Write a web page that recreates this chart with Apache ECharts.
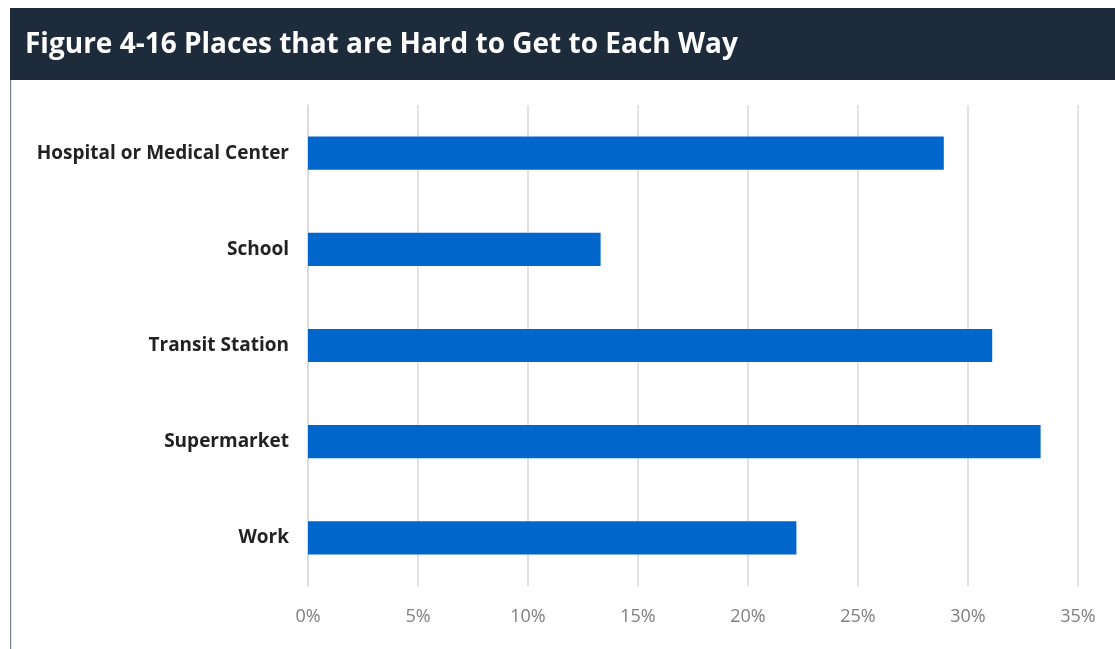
<!DOCTYPE html>
<html><head><meta charset="utf-8">
<script src="https://cdn.jsdelivr.net/npm/echarts@6/dist/echarts.min.js"></script>
<style>html,body{margin:0;padding:0;background:#fff}#c{width:1115px;height:649px}</style>
</head><body><div id="c"></div>
<script>
const titleText = "Figure 4-16 Places that are Hard to Get to Each Way";
const categories = ["Hospital or Medical Center", "School", "Transit Station", "Supermarket", "Work"];
const values = [28.9, 13.3, 31.1, 33.3, 22.2];
const xTicks = [0, 5, 10, 15, 20, 25, 30, 35];

const chart = echarts.init(document.getElementById('c'), null, {renderer: 'canvas'});
chart.setOption({
  animation: false,
  backgroundColor: '#ffffff',
  graphic: [
    {type: 'rect', shape: {x: 10, y: 8, width: 1105, height: 72}, style: {fill: '#1e2b3b'}, z: 0},
    {type: 'rect', shape: {x: 10, y: 80, width: 1.2, height: 569}, style: {fill: '#7b8099'}, z: 0},
    {type: 'text', left: 25, top: 31, style: {text: titleText, fill: '#ffffff', font: 'bold 28px "Open Sans", sans-serif'}, z: 1}
  ],
  grid: {left: 308, right: 37, top: 105, bottom: 63, containLabel: false},
  xAxis: {
    type: 'value', min: xTicks[0], max: xTicks[xTicks.length - 1], interval: 5,
    axisLine: {show: false}, axisTick: {show: false},
    splitLine: {show: true, lineStyle: {color: '#d9d9d9', width: 1.5}},
    axisLabel: {formatter: v => v + '%', color: '#7f7f7f', fontSize: 18, margin: 22, fontFamily: '"Open Sans", sans-serif'}
  },
  yAxis: {
    type: 'category', data: categories, inverse: true,
    axisLine: {show: true, lineStyle: {color: '#d9d9d9', width: 1.5}},
    axisTick: {show: false},
    axisLabel: {color: '#222222', fontSize: 19, fontWeight: 'bold', margin: 19, fontFamily: '"Open Sans", sans-serif'}
  },
  series: [{
    type: 'bar', data: values, barWidth: '34.5%',
    itemStyle: {color: '#0066cc'}
  }]
});
</script></body></html>
